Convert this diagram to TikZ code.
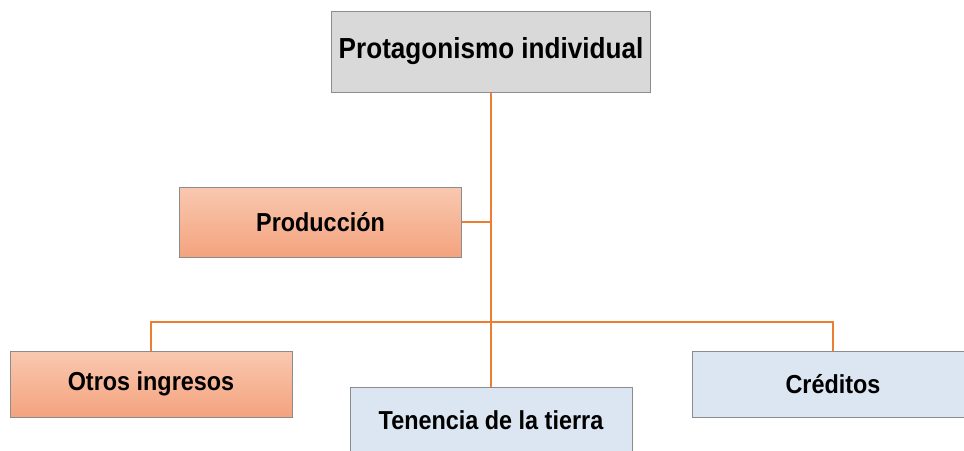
\documentclass[tikz,border=0pt]{standalone}
\usepackage{fontspec}
\newfontfamily\boxfont[FakeStretch=0.9]{Liberation Sans}
\usepackage{tikz}
\usetikzlibrary{positioning}
\usepackage{xcolor}

\definecolor{linkorange}{HTML}{ED7D31}
\definecolor{boxgray}{HTML}{D9D9D9}
\definecolor{boxblue}{HTML}{DCE6F2}
\definecolor{peachtop}{HTML}{F9C8B0}
\definecolor{peachbot}{HTML}{F4A37E}
\definecolor{rimgray}{HTML}{8C8C8C}

\begin{document}
\begin{tikzpicture}[x=1pt,y=-1pt,
  item/.style={draw=rimgray, line width=1pt, minimum width=282pt, minimum height=66pt,
    inner sep=0pt, font=\boxfont\bfseries\fontsize{26}{30}\selectfont},
  peach/.style={item, top color=peachtop, bottom color=peachbot},
  pale/.style={item, fill=boxblue},
  link/.style={linkorange, line width=2.2pt}]

\useasboundingbox[fill=white] (0,0) rectangle (964,450);

\node[item, fill=boxgray, minimum width=319pt, minimum height=81pt,
  font=\boxfont\bfseries\fontsize{29}{33}\selectfont] (top) at (491,51.5) {Protagonismo individual};

\node[peach, minimum height=70pt] (prod) at (320.5,222) {Producción};

\node[peach] (otros) at (151,384) {Otros ingresos};
\node[pale] (tierra) at (491,420) {Tenencia de la tierra};
\node[pale] (cred) at (833,384) {Créditos};

\coordinate (hub) at (491,322);

% trunk and branches
\draw[link] (top.south) -- (tierra.north);
\draw[link] (prod.east) -- (prod.east -| top.south);
\draw[link] (otros.north) |- (hub) -| (cred.north);

\end{tikzpicture}
\end{document}
